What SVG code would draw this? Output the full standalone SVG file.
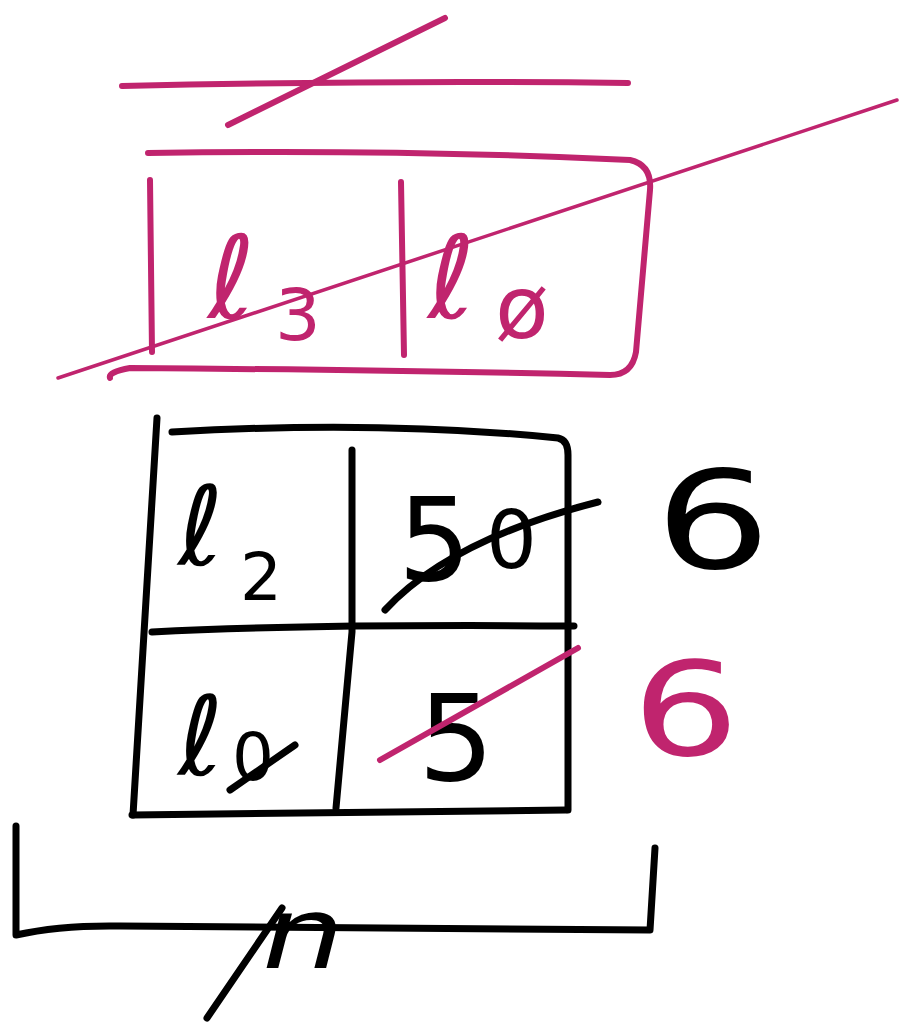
<svg xmlns="http://www.w3.org/2000/svg" width="902" height="1025" viewBox="0 0 902 1025">
<style>
.pk{fill:none;stroke:#c0246e;stroke-width:6;stroke-linecap:round;stroke-linejoin:round}
.pkt{fill:none;stroke:#c0246e;stroke-width:3.5;stroke-linecap:round}
.bk{fill:none;stroke:#000;stroke-width:7;stroke-linecap:round;stroke-linejoin:round}
.tp{fill:#c0246e;font-family:"DejaVu Sans",sans-serif}
.tb{fill:#000;font-family:"DejaVu Sans",sans-serif}
</style>
<rect width="902" height="1025" fill="#fff"/>
<g id="top-bar">
<path class="pk" d="M122 86 Q380 80 628 83"/>
<path class="pk" d="M228 125 L445 18"/>
</g>
<g id="pink-box">
<path class="pk" d="M148 153 Q400 149 630 160 Q652 165 650 190 L636 352 Q632 375 610 375 Q400 370 130 368 Q108 372 110 378"/>
<path class="pk" d="M150 180 L152 352"/>
<path class="pk" d="M401 182 L404 355"/>
<text class="tp" x="208" y="318" font-size="115" font-style="italic">ℓ</text>
<text class="tp" x="275" y="340" font-size="72">3</text>
<text class="tp" x="428" y="318" font-size="115" font-style="italic">ℓ</text>
<text class="tp" x="495" y="338" font-size="88">ø</text>
</g>
<g id="black-grid">
<path class="bk" d="M157 418 L133 815"/>
<path class="bk" d="M172 432 Q380 420 558 438 Q568 440 568 455 L568 810"/>
<path class="bk" d="M152 632 Q300 624 574 626"/>
<path class="bk" d="M352 450 L352 632 L336 808"/>
<path class="bk" d="M132 815 L566 810"/>
<text class="tb" x="178" y="565" font-size="110" font-style="italic">ℓ</text>
<text class="tb" x="240" y="600" font-size="66">2</text>
<text class="tb" x="398" y="580" font-size="115">5</text>
<text class="tb" x="486" y="568" font-size="80">0</text>
<path class="bk" d="M385 610 Q450 540 598 502"/>
<text class="tb" x="178" y="775" font-size="110" font-style="italic">ℓ</text>
<text class="tb" x="232" y="780" font-size="66">0</text>
<path class="bk" d="M230 790 L295 745"/>
<text class="tb" x="418" y="780" font-size="120">5</text>
<path class="pk" d="M380 760 L578 648"/>
</g>
<g id="sixes">
<text class="tb" font-size="135" transform="translate(655 568) scale(1.35 1)">6</text>
<text class="tp" font-size="130" transform="translate(632 755) scale(1.3 1)">6</text>
</g>
<g id="bracket">
<path class="bk" d="M16 826 L16 935 Q60 925 120 926 L650 930 L655 848"/>
<text class="tb" font-size="100" font-style="italic" transform="translate(262 968) scale(1.3 1)">n</text>
<path class="bk" d="M207 1018 L282 908"/>
</g>
<g id="connectors">
<path class="pkt" d="M58 378 L897 100"/>
</g>
</svg>
